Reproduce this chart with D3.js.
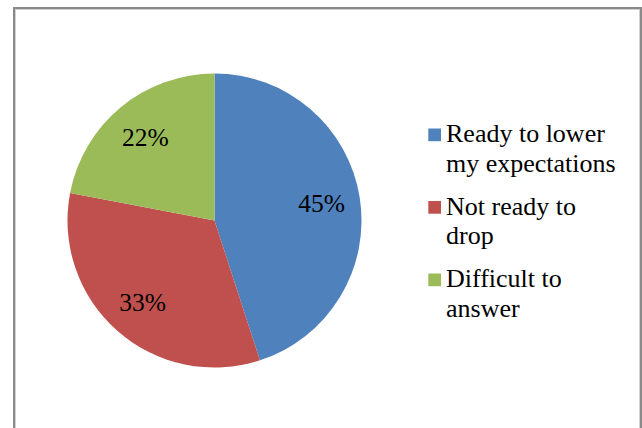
<!DOCTYPE html>
<html>
<head>
<meta charset="utf-8">
<script src="https://cdn.jsdelivr.net/npm/d3@7"></script>
<style>
  html, body { margin: 0; padding: 0; background: #fff; }
  svg { display: block; }
  text { font-family: "Liberation Serif", "Tinos", "Times New Roman", Times, "DejaVu Serif", serif; }
</style>
</head>
<body>
<svg id="chart" width="642" height="428"></svg>
<script>
const categories = ["Ready to lower my expectations", "Not ready to drop", "Difficult to answer"];
const legendLines = [["Ready to lower", "my expectations"], ["Not ready to", "drop"], ["Difficult to", "answer"]];
const values = [45, 33, 22];
const valueLabels = ["45%", "33%", "22%"];
const colors = ["#4F81BD", "#C0504D", "#9BBB59"];

const svg = d3.select("#chart");

// frame
svg.append("rect").attr("x", 14).attr("y", 8).attr("width", 627).attr("height", 440)
  .attr("fill", "none").attr("stroke", "#8a8a8a").attr("stroke-width", 2);
svg.append("rect").attr("x", 15.5).attr("y", 9.5).attr("width", 624).attr("height", 440)
  .attr("fill", "none").attr("stroke", "#d0d0d0").attr("stroke-width", 1);

const cx = 214.5, cy = 220.5, r = 147;
const pie = d3.pie().sort(null).value(d => d)(values);
const arc = d3.arc().innerRadius(0).outerRadius(r);
const labelArc = d3.arc().innerRadius(108.5).outerRadius(108.5);

const g = svg.append("g").attr("transform", `translate(${cx},${cy})`);
g.selectAll("path").data(pie).join("path")
  .attr("d", arc)
  .attr("fill", (d, i) => colors[i]);

g.selectAll("text").data(pie).join("text")
  .attr("transform", d => `translate(${labelArc.centroid(d)})`)
  .attr("text-anchor", "middle")
  .attr("dy", "0.34em")
  .style("font-size", "25.5px")
  .attr("fill", "#000")
  .text((d, i) => valueLabels[i]);

// legend
const legend = svg.append("g");
const itemY = d3.scaleLinear().domain([0, 1]).range([142, 214.5]);
categories.forEach((c, i) => {
  const y = itemY(i);
  legend.append("rect").attr("x", 428.3).attr("y", y - 13.5).attr("width", 12.7).attr("height", 12.7)
    .attr("fill", colors[i]);
  const t = legend.append("text").style("font-size", "26px").attr("fill", "#000");
  legendLines[i].forEach((line, j) => {
    t.append("tspan").attr("x", 446).attr("y", y + j * 29.5).text(line);
  });
});
</script>
</body>
</html>
